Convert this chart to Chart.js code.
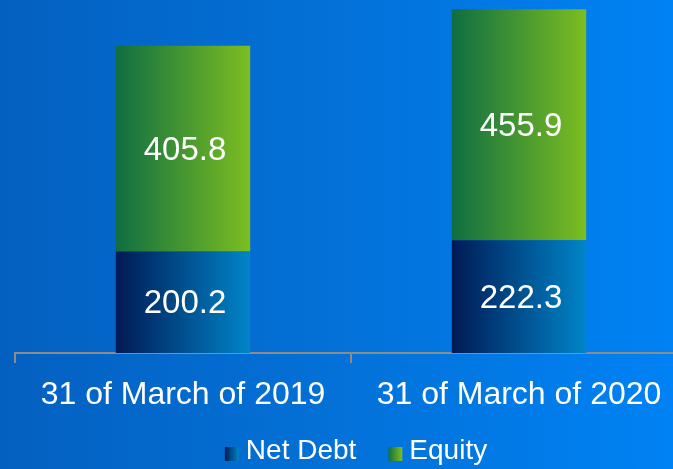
<!DOCTYPE html>
<html>
<head>
<meta charset="utf-8">
<script src="https://cdn.jsdelivr.net/npm/chart.js@4"></script>
<style>
  html, body { margin: 0; padding: 0; overflow: hidden; width: 673px; height: 469px;
    background: linear-gradient(90deg, #0460c0 0%, #0371d8 50%, #0082f4 100%); }
  #wrap { position: absolute; left: 0; top: 0; width: 700px; height: 469px; }
</style>
</head>
<body>
<div id="wrap"><canvas id="chart" width="700" height="469"></canvas></div>
<script>
// ── Data ──
const categories = ["31 of March of 2019", "31 of March of 2020"];
const netDebt    = [200.2, 222.3];
const equity     = [405.8, 455.9];
const seriesNames = ["Net Debt", "Equity"];

// ── Colours (left → right gradient per bar) ──
const debtStops   = ["#001a55", "#0085c8"];
const equityStops = ["#0f6e42", "#7cbe20"];
const legendStops = [debtStops, equityStops];
const BAR_PCT = 0.4;

Chart.defaults.font.family = '"Liberation Sans", Arial, sans-serif';

function barFill(stops) {
  return ctx => {
    const chart = ctx.chart, xs = chart.scales.x;
    if (!chart.chartArea || !xs || ctx.dataIndex === undefined) return stops[1];
    const cx = xs.getPixelForValue(ctx.dataIndex);
    const half = xs.width / categories.length * BAR_PCT / 2;
    const g = chart.ctx.createLinearGradient(cx - half, 0, cx + half, 0);
    g.addColorStop(0, stops[0]);
    g.addColorStop(1, stops[1]);
    return g;
  };
}

// ── Value labels inside the segments ──
const valueLabels = {
  id: "valueLabels",
  afterDatasetsDraw(chart) {
    const c = chart.ctx;
    c.save();
    c.fillStyle = "#ffffff";
    c.font = '33px "Liberation Sans", Arial, sans-serif';
    c.textAlign = "center";
    c.textBaseline = "middle";
    chart.data.datasets.forEach((ds, di) => {
      chart.getDatasetMeta(di).data.forEach((bar, i) => {
        c.fillText(ds.data[i].toFixed(1), bar.x + 2, (bar.y + bar.base) / 2 + 2);
      });
    });
    c.restore();
  }
};

// ── Legend: nudge right, paint 14px gradient swatches ──
const legendSwatches = {
  id: "legendSwatches",
  afterLayout(chart) {
    chart.legend.left += 5;
    chart.legend.right += 5;
  },
  afterDraw(chart) {
    const c = chart.ctx;
    (chart.legend.legendHitBoxes || []).forEach((hb, i) => {
      const top = hb.top + 10;
      const g = c.createLinearGradient(hb.left, 0, hb.left + 14, 0);
      g.addColorStop(0, legendStops[i][0]);
      g.addColorStop(1, legendStops[i][1]);
      c.fillStyle = g;
      c.fillRect(hb.left, top, 14, 14);
    });
  }
};

new Chart(document.getElementById("chart"), {
  type: "bar",
  data: {
    labels: categories,
    datasets: [
      { label: seriesNames[0], data: netDebt, backgroundColor: barFill(debtStops),
        borderWidth: 0, barPercentage: BAR_PCT, categoryPercentage: 1 },
      { label: seriesNames[1], data: equity, backgroundColor: barFill(equityStops),
        borderWidth: 0, barPercentage: BAR_PCT, categoryPercentage: 1 }
    ]
  },
  options: {
    responsive: false, animation: false,
    layout: { padding: { left: 15, right: 13, top: 0, bottom: -6 } },
    plugins: {
      tooltip: { enabled: false },
      legend: {
        position: "bottom",
        labels: {
          color: "#ffffff", font: { size: 28 }, padding: 32,
          usePointStyle: true, pointStyleWidth: 7,
          generateLabels: chart => chart.data.datasets.map((ds, i) => ({
            text: ds.label, pointStyle: "rect", fillStyle: "transparent",
            strokeStyle: "transparent", lineWidth: 0, hidden: false,
            datasetIndex: i, fontColor: "#ffffff"
          }))
        }
      }
    },
    scales: {
      x: {
        stacked: true,
        grid: { offset: true, drawOnChartArea: false, drawTicks: true, tickLength: 10,
                color: "#8c8c8c", lineWidth: 2 },
        border: { display: true, color: "#8c8c8c", width: 2 },
        ticks: { color: "#ffffff", font: { size: 32 }, padding: 13, maxRotation: 0, autoSkip: false },
        afterFit: s => { s.height = 52; }
      },
      y: { stacked: true, display: false, min: 0, max: 696.5 }
    }
  },
  plugins: [valueLabels, legendSwatches]
});
</script>
</body>
</html>
